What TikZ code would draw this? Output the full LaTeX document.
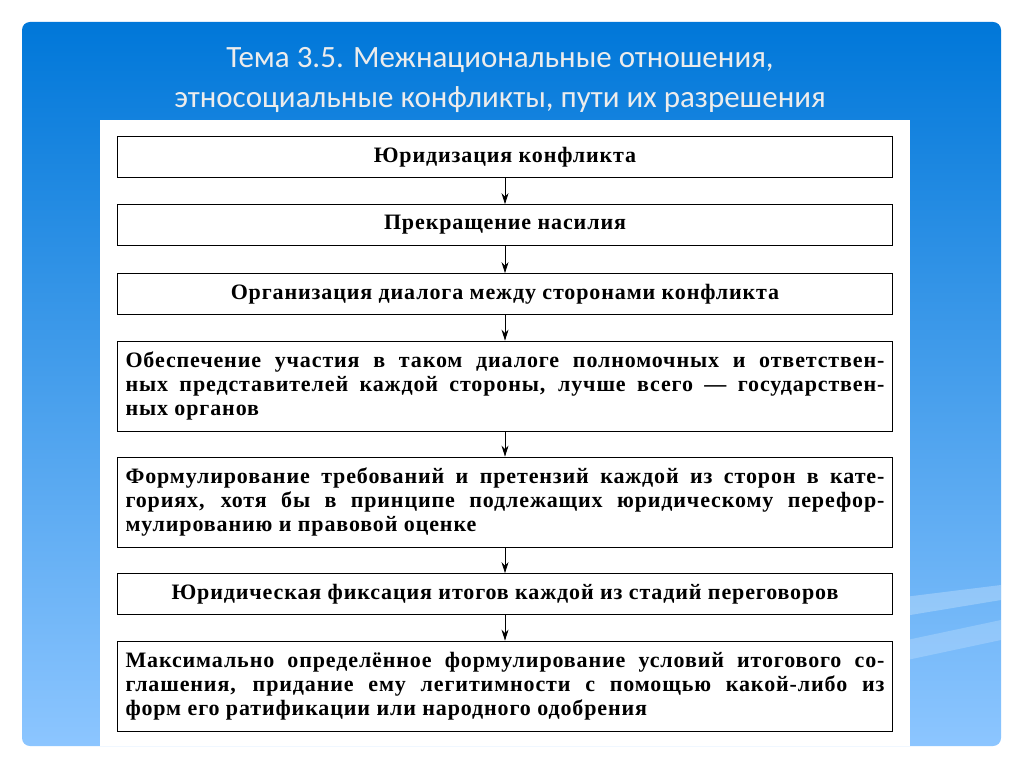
\documentclass[tikz,border=0pt]{standalone}
\usepackage{fontspec}
\setmainfont{Liberation Serif}[LetterSpace=4]
\newfontfamily\titlefont{Carlito}
\usetikzlibrary{positioning, arrows.meta}

\begin{document}
\begin{tikzpicture}[x=1pt,y=-1pt,font=\bfseries\fontsize{22}{24}\selectfont]

    % Define styles
    \tikzstyle{stage} = [draw=black, thick, minimum width=775pt, inner xsep=8pt, inner ysep=4pt]
    \tikzstyle{short} = [stage, minimum height=41pt, align=center]
    \tikzstyle{long} = [stage, minimum height=90pt, text width=759pt, align=justify]
    \tikzstyle{tarrow} = [thick,-{Stealth[length=11pt,width=7pt]}]

    % background
    \useasboundingbox (0,0) rectangle (1024,767);
    \fill[white] (0,0) rectangle (1024,767);
    \shade[rounded corners=8pt, top color=blue!45!cyan!85!black, bottom color=cyan!50!blue!45]
        (22,22) rectangle (1001,746);
    \fill[white,opacity=0.25] (880,600) -- (1001,585) -- (1001,600) -- (880,620) -- cycle;
    \fill[white,opacity=0.2] (860,650) -- (1001,620) -- (1001,640) -- (860,670) -- cycle;
    \fill[white] (100,120) rectangle (910,746);

    % title
    \node (title) at (500,80) [font=\titlefont\fontsize{31}{40}\selectfont, text=white!85!gray, align=center]
        {Тема 3.5. Межнациональные отношения,\\этносоциальные конфликты, пути их разрешения};

    % Define nodes
    \node (s1) at (505,157) [short] {Юридизация конфликта};
    \node (s2) at (505,225) [short] {Прекращение насилия};
    \node (s3) at (505,294) [short] {Организация диалога между сторонами конфликта};
    \node (s4) at (505,386) [long]
        {Обеспечение участия в таком диалоге полномочных и ответствен-\linebreak
         ных представителей каждой стороны, лучше всего — государствен-\linebreak
         ных органов};
    \node (s5) at (505,502) [long]
        {Формулирование требований и претензий каждой из сторон в кате-\linebreak
         гориях, хотя бы в принципе подлежащих юридическому перефор-\linebreak
         мулированию и правовой оценке};
    \node (s6) at (505,594) [short] {Юридическая фиксация итогов каждой из стадий переговоров};
    \node (s7) at (505,686) [long]
        {Максимально определённое формулирование условий итогового со-\linebreak
         глашения, придание ему легитимности с помощью какой-либо из\linebreak
         форм его ратификации или народного одобрения};

    % arrows
    \foreach \a/\b in {s1/s2, s2/s3, s3/s4, s4/s5, s5/s6, s6/s7}
        \draw [tarrow] (\a) -- (\b);

\end{tikzpicture}
\end{document}
